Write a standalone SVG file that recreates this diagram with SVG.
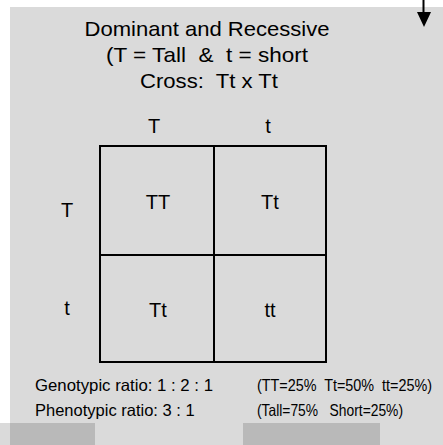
<svg xmlns="http://www.w3.org/2000/svg" width="443" height="445" viewBox="0 0 443 445" xml:space="preserve">
<style>
text{font-family:"Liberation Sans",Arial,sans-serif;fill:#000;white-space:pre}
.t{font-size:21px;text-anchor:middle}
.c{font-size:20px;text-anchor:middle}
.b{font-size:16.5px}
.g{stroke:#000;stroke-width:2;fill:none}
</style>
<rect x="0" y="0" width="443" height="445" fill="#fff"/>
<rect x="10" y="7" width="433" height="438" fill="#dadada"/>
<rect x="0" y="423" width="10" height="22" fill="#dadada"/>
<rect x="10" y="423" width="85" height="22" fill="#b9b9b9"/>
<rect x="243" y="423" width="137" height="22" fill="#b9b9b9"/>
<g id="arrow">
<line x1="423.5" y1="0" x2="423.5" y2="13" stroke="#000" stroke-width="2"/>
<polygon points="417,12 431,12 424,27" fill="#000"/>
</g>
<g id="title">
<text class="t" x="207" y="36" textLength="245" lengthAdjust="spacingAndGlyphs">Dominant and Recessive</text>
<text class="t" x="207" y="62" textLength="202" lengthAdjust="spacingAndGlyphs">(T = Tall  &amp;  t = short</text>
<text class="t" x="209" y="88" textLength="138" lengthAdjust="spacingAndGlyphs">Cross:  Tt x Tt</text>
</g>
<g id="grid">
<rect class="g" x="100" y="146" width="226" height="216"/>
<line class="g" x1="214" y1="146" x2="214" y2="362"/>
<line class="g" x1="100" y1="255" x2="326" y2="255"/>
</g>
<g id="headers">
<text class="c" x="154" y="133">T</text>
<text class="c" x="268" y="133">t</text>
<text class="c" x="67" y="217">T</text>
<text class="c" x="67" y="315">t</text>
</g>
<g id="cell-TT"><text class="c" x="158" y="209">TT</text></g>
<g id="cell-Tt1"><text class="c" x="270" y="209">Tt</text></g>
<g id="cell-Tt2"><text class="c" x="158" y="317">Tt</text></g>
<g id="cell-tt"><text class="c" x="270" y="317">tt</text></g>
<g id="ratios">
<text class="b" x="35" y="391" textLength="178" lengthAdjust="spacingAndGlyphs">Genotypic ratio: 1 : 2 : 1</text>
<text class="b" x="257" y="391" textLength="175" lengthAdjust="spacingAndGlyphs">(TT=25%  Tt=50%  tt=25%)</text>
<text class="b" x="35" y="416">Phenotypic ratio: 3 : 1</text>
<text class="b" x="257" y="416" textLength="146" lengthAdjust="spacingAndGlyphs">(Tall=75%   Short=25%)</text>
</g>
</svg>
